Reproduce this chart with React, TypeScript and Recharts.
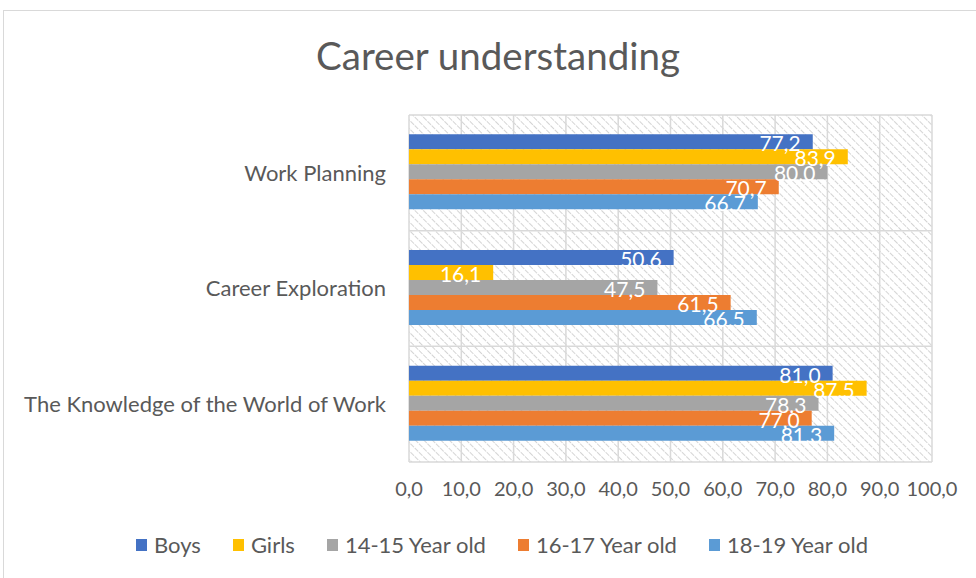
import React from 'react';
import {
  BarChart,
  Bar,
  XAxis,
  YAxis,
  CartesianGrid,
  LabelList,
} from 'recharts';

const categories = ['Work Planning', 'Career Exploration', 'The Knowledge of the World of Work'];
const seriesNames = ['Boys', 'Girls', '14-15 Year old', '16-17 Year old', '18-19 Year old'];
const seriesColors = ['#4472C4', '#FFC000', '#A5A5A5', '#ED7D31', '#5B9BD5'];

const boys = [77.2, 50.6, 81.0];
const girls = [83.9, 16.1, 87.5];
const age1415 = [80.0, 47.5, 78.3];
const age1617 = [70.7, 61.5, 77.0];
const age1819 = [66.7, 66.5, 81.3];

// labels as printed on the bars (the source mixes separators)
const boysLabels = ['77,2', '50.6', '81,0'];
const girlsLabels = ['83,9', '16,1', '87.5'];
const age1415Labels = ['80.0', '47,5', '78.3'];
const age1617Labels = ['70,7', '61,5', '77,0'];
const age1819Labels = ['66.7', '66.5', '81.3'];

const xTicks = [0, 10, 20, 30, 40, 50, 60, 70, 80, 90, 100];

const seriesValues = [boys, girls, age1415, age1617, age1819];
const seriesLabels = [boysLabels, girlsLabels, age1415Labels, age1617Labels, age1819Labels];

const data = categories.map((name, i) => {
  const row: any = { name };
  seriesValues.forEach((vals, s) => {
    row['s' + s] = vals[i];
    row['l' + s] = seriesLabels[s][i];
  });
  return row;
});

const font = 'Lato, "Open Sans", sans-serif';
const textColor = '#595959';
const gridColor = '#d9d9d9';

export default function App() {
  return (
    <div
      style={{
        position: 'absolute',
        left: 0,
        top: 0,
        width: 976,
        height: 578,
        overflow: 'hidden',
        background: '#fff',
        fontFamily: font,
      }}
    >
      <div
        style={{
          position: 'absolute',
          left: 3,
          top: 10,
          width: 1000,
          height: 620,
          border: `1px solid ${gridColor}`,
        }}
      />
      <div
        style={{
          position: 'absolute',
          left: 0,
          top: 32,
          width: 996,
          textAlign: 'center',
          fontSize: 38.5,
          color: textColor,
        }}
      >
        Career understanding
      </div>
      <div style={{ position: 'absolute', left: 0, top: 0 }}>
        <BarChart
          width={976}
          height={578}
          data={data}
          layout="vertical"
          margin={{ top: 115, right: 44, bottom: 86, left: 0 }}
          barCategoryGap="16.7%"
          barGap={0}
        >
          <defs>
            <pattern
              id="hatch"
              width="6"
              height="6"
              patternUnits="userSpaceOnUse"
              patternTransform="rotate(-45)"
            >
              <line x1="0" y1="0" x2="0" y2="6" stroke="#d4d4d4" strokeWidth="2" strokeDasharray="3 1" />
            </pattern>
          </defs>
          <CartesianGrid
            fill="url(#hatch)"
            stroke={gridColor}
            strokeWidth={1.5}
            horizontalCoordinatesGenerator={({ offset }: any) =>
              categories.concat(['']).map((_, i) => offset.top + (i * offset.height) / categories.length)
            }
          />
          <XAxis
            type="number"
            domain={[0, 100]}
            ticks={xTicks}
            axisLine={false}
            tickLine={false}
            tickSize={0}
            tickMargin={20}
            height={30}
            interval={0}
            tickFormatter={(v: number) => v.toFixed(1).replace('.', ',')}
            tick={{ fill: textColor, fontSize: 20, fontFamily: font }}
          />
          <YAxis
            type="category"
            dataKey="name"
            width={409}
            axisLine={false}
            tickLine={false}
            tickSize={0}
            tickMargin={23}
            tick={{ fill: textColor, fontSize: 22, fontFamily: font }}
          />
          {seriesNames.map((n, s) => (
            <Bar
              key={n}
              dataKey={'s' + s}
              name={n}
              fill={seriesColors[s]}
              isAnimationActive={false}
            >
              <LabelList
                dataKey={'l' + s}
                position="insideRight"
                offset={12}
                fill="#fff"
                fontSize={21}
                fontFamily={font}
                dy={2}
              />
            </Bar>
          ))}
        </BarChart>
      </div>
      <div
        style={{
          position: 'absolute',
          left: 0,
          top: 531,
          width: 1004,
          display: 'flex',
          justifyContent: 'center',
          gap: 32,
          fontSize: 22,
          color: textColor,
        }}
      >
        {seriesNames.map((n, s) => (
          <div key={n} style={{ display: 'flex', alignItems: 'center' }}>
            <span
              style={{
                display: 'inline-block',
                width: 11,
                height: 12,
                background: seriesColors[s],
                marginRight: 7,
              }}
            />
            <span>{n}</span>
          </div>
        ))}
      </div>
    </div>
  );
}
